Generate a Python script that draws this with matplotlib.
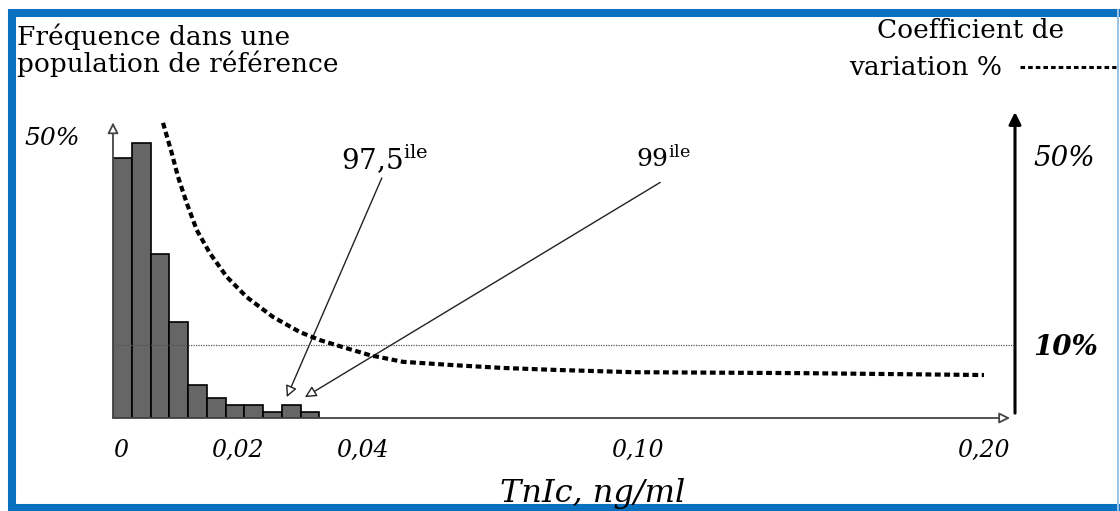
import numpy as np
import matplotlib
matplotlib.use("Agg")
import matplotlib.pyplot as plt
from matplotlib.lines import Line2D

plt.rcParams['font.family'] = ['DejaVu Serif']
plt.rcParams['mathtext.fontset'] = 'dejavuserif'

W, H = 1120, 511

# reference population histogram: bin left edges (TnIc, ng/ml) and frequency (%)
BIN_LEFT = [0.000, 0.003, 0.006, 0.009, 0.012, 0.015, 0.018, 0.021, 0.024, 0.027, 0.030]
BIN_W = 0.003
FREQ = [46.1, 48.8, 29.1, 17.0, 5.9, 3.5, 2.3, 2.3, 1.1, 2.3, 1.1]

# imprecision profile: coefficient of variation (%) vs TnIc
CV_X = [0.0080, 0.0094, 0.0104, 0.0118, 0.0134, 0.0155, 0.0182, 0.0214, 0.0256, 0.0299,
        0.0331, 0.0363, 0.0415, 0.0487, 0.0596, 0.0705, 0.0815, 0.0989, 0.147, 0.20]
CV_Y = [57.0, 50.6, 45.6, 40.0, 34.3, 29.4, 24.4, 20.1, 15.9, 12.7,
        11.0, 9.7, 7.8, 6.4, 5.7, 5.1, 4.7, 4.2, 4.0, 3.6]
CV_TARGET = 10

# percentile annotations: (TnIc, freq %) of label, arrow tail and arrow tip
P975_LABEL, P975_TAIL, P975_TIP = (0.0446, 45.9), (0.0441, 42.6), (0.0278, 3.7)
P99_LABEL, P99_TAIL, P99_TIP = (0.1072, 46.1), (0.1064, 41.8), (0.0307, 3.7)

X_TICKS = [0, 0.02, 0.04, 0.10, 0.20]
X_LABELS = ['0', '0,02', '0,04', '0,10', '0,20']

# schematic (non-linear) concentration axis
KNOT_C = [0, 0.04, 0.10, 0.20, 0.30]
KNOT_P = [0, 250, 525, 871, 1221]


def fwd(c):
    return np.interp(c, KNOT_C, KNOT_P)


def inv(p):
    return np.interp(p, KNOT_P, KNOT_C)


def px(x, y):
    return x / W, 1 - y / H


fig = plt.figure(figsize=(W / 100, H / 100), dpi=100)
ax = fig.add_axes([113 / W, (H - 418) / H, (1015 - 113) / W, (418 - 112) / H])
ax.set_xscale('function', functions=(fwd, inv))
ax.set_xlim(0, float(inv(902)))
ax.set_ylim(0, 54.3)
ax.patch.set_visible(False)

ax.bar(BIN_LEFT, FREQ, width=BIN_W, align='edge', color='#666666',
       edgecolor='black', linewidth=1.2, zorder=2)

for s in ax.spines.values():
    s.set_visible(False)
ax.set_xticks(X_TICKS, X_LABELS)
ax.tick_params(axis='x', length=0, pad=15, labelsize=17)
for lbl in ax.get_xticklabels():
    lbl.set_fontstyle('italic')
ax.get_xticklabels()[0].set_ha('left')
ax.set_yticks([50], ['50%'])
ax.tick_params(axis='y', length=0, pad=24, labelsize=18)
for lbl in ax.get_yticklabels():
    lbl.set_fontstyle('italic')

# left and bottom axis arrows (open heads)
open_head = dict(arrowstyle='-|>', fc='white', ec='#444444', lw=1.3,
                 mutation_scale=16, shrinkA=0, shrinkB=0)
ax.annotate('', xy=(0, 0.966), xytext=(0, 0), xycoords='axes fraction', arrowprops=open_head)
ax.annotate('', xy=(0.9945, 0), xytext=(0, 0), xycoords='axes fraction', arrowprops=open_head)

# percentile arrows
thin_head = dict(arrowstyle='-|>', fc='white', ec='#222222', lw=1.0,
                 mutation_scale=17, shrinkA=0, shrinkB=0)
ax.annotate('', xy=P975_TIP, xytext=P975_TAIL, arrowprops=thin_head)
ax.annotate('', xy=P99_TIP, xytext=P99_TAIL, arrowprops=thin_head)
ax.text(*P975_LABEL, r'97,5$^{\mathrm{ile}}$', fontsize=20, ha='center', va='center')
ax.text(*P99_LABEL, r'99$^{\mathrm{ile}}$', fontsize=18, ha='center', va='center')

# CV curve on the right scale
ax2 = ax.twinx()
ax2.set_ylim(-5.5, 59.3)
for s in ax2.spines.values():
    s.set_visible(False)
ax2.plot(CV_X, CV_Y, color='black', lw=3.0, ls=(0, (1.4, 0.85)),
         dash_capstyle='butt', zorder=3)
ax2.axhline(CV_TARGET, color='#555555', lw=0.9, ls=(0, (1, 1)), zorder=1)
ax2.set_yticks([CV_TARGET, 50], ['10%', '50%'])
ax2.tick_params(axis='y', length=0, pad=13, labelsize=20)
for lbl in ax2.get_yticklabels():
    lbl.set_fontstyle('italic')
ax2.get_yticklabels()[0].set_fontweight('bold')
ax2.annotate('', xy=(1, 1.0), xytext=(1, 0.016), xycoords='axes fraction',
             arrowprops=dict(arrowstyle='-|>', fc='black', ec='black', lw=2.2,
                             mutation_scale=18, shrinkA=0, shrinkB=0))

# titles
fig.text(*px(17, 45), 'Fréquence dans une', fontsize=19, ha='left', va='baseline')
fig.text(*px(17, 72), 'population de référence', fontsize=19, ha='left', va='baseline')
fig.text(*px(971, 38), 'Coefficient de', fontsize=19, ha='center', va='baseline')
fig.text(*px(926, 75), 'variation %', fontsize=19, ha='center', va='baseline')
fig.add_artist(Line2D([1020 / W, 1116 / W], [1 - 67 / H] * 2, transform=fig.transFigure,
                      color='black', lw=2.2, ls=(0, (1.5, 1.0))))
fig.text(*px(593, 493), 'TnIc, ng/ml', fontsize=23, style='italic', ha='center', va='center')

# blue frame
blue = '#0a70c0'
for xs, ys, lw in [((8, 1120), (13.5, 13.5), 5.8), ((12, 12), (10, 511), 5.8),
                   ((8, 1120), (507.5, 507.5), 5.8)]:
    fig.add_artist(Line2D([x / W for x in xs], [1 - y / H for y in ys],
                          transform=fig.transFigure, color=blue, lw=lw, solid_capstyle='butt'))
fig.add_artist(Line2D([1118 / W] * 2, [1 - 10 / H, 1 - 511 / H], transform=fig.transFigure,
                      color='#9cc3e4', lw=1.5))

fig.savefig('out.png', dpi=100)
